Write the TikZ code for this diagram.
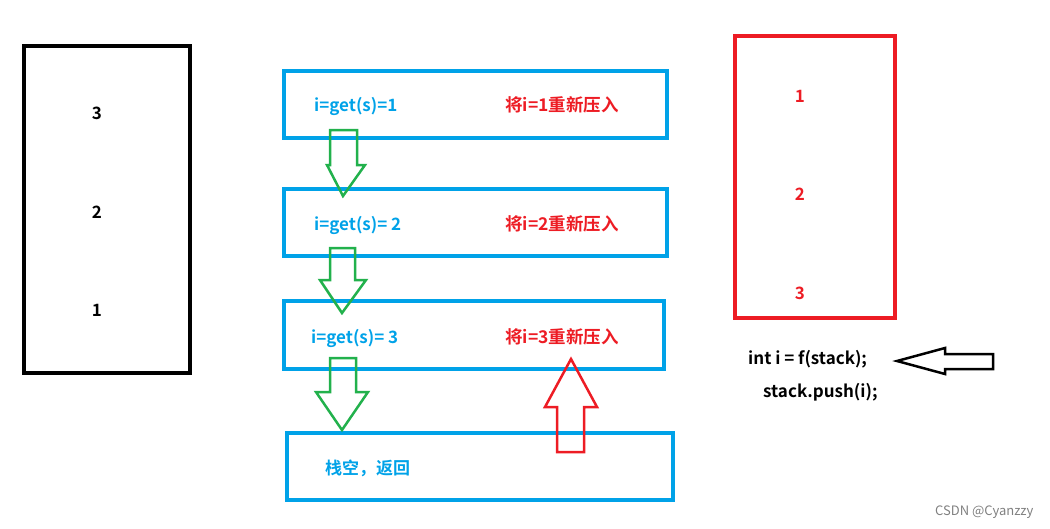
\documentclass[tikz,border=0pt]{standalone}
\usepackage{fontspec}
\setmainfont{Noto Sans CJK SC}[BoldFont={* Bold}]
\definecolor{pblue}{HTML}{00A2E8}
\definecolor{pred}{HTML}{ED1C24}
\definecolor{pgreen}{HTML}{22B14C}
\begin{document}
\begin{tikzpicture}[x=1pt,y=-1pt,
  box/.style={draw=pblue,line width=3.5pt},
  bt/.style={font=\bfseries\fontsize{17}{20}\selectfont,text=pblue,anchor=west,inner sep=0},
  rt/.style={font=\bfseries\fontsize{17.5}{20}\selectfont,text=pred,anchor=west,inner sep=0},
  kt/.style={font=\bfseries\fontsize{17}{20}\selectfont,inner sep=0},
  garrow/.style={draw=pgreen,line width=2.5pt,line join=miter}]
\useasboundingbox (0,0) rectangle (1050,528);
\draw[line width=3.5pt] (24,46) rectangle (190,373);
\node[kt] (l3) at (97,113) {3};
\node[kt] (l2) at (97,212) {2};
\node[kt] (l1) at (97,310) {1};
\draw[box] (284,71) rectangle (667,138);
\draw[box] (284,189) rectangle (667,256);
\draw[box] (284,301) rectangle (664,369);
\draw[box] (287,433) rectangle (673,500);
\node[bt] (t1) at (314,106) {i=get(s)=1};
\node[rt] (r1) at (505,105) {将i=1重新压入};
\node[bt] (t2) at (314,225) {i=get(s)=\ 2};
\node[rt] (r2) at (505,224) {将i=2重新压入};
\node[bt] (t3) at (311,338) {i=get(s)=\ 3};
\node[rt] (r3) at (505,337) {将i=3重新压入};
\node[bt] (t4) at (325,468) {栈空，返回};
\draw[garrow] (330,130) -- (357,130) -- (357,165) -- (365,165) -- (343,196) -- (327,165) -- (330,165) -- cycle;
\draw[garrow] (330,248) -- (355,248) -- (355,280) -- (366,280) -- (342,313) -- (320,280) -- (330,280) -- cycle;
\draw[garrow] (330,358) -- (356,358) -- (356,392) -- (368,392) -- (342,430) -- (316,392) -- (330,392) -- cycle;
\draw[draw=pred,line width=2.5pt] (557,452) -- (584,452) -- (584,407) -- (597,407) -- (571,359) -- (545,407) -- (557,407) -- cycle;
\draw[draw=pred,line width=3.5pt] (735,36) rectangle (895,318);
\node[kt,text=pred] (s1) at (800,96) {1};
\node[kt,text=pred] (s2) at (800,194) {2};
\node[kt,text=pred] (s3) at (800,293) {3};
\node[kt,anchor=west] (c1) at (748,359) {int i = f(stack);};
\node[kt,anchor=west] (c2) at (763,392) {stack.push(i);};
\draw[line width=2.5pt] (897,361) -- (945,348) -- (945,354) -- (993,354) -- (993,369) -- (945,369) -- (945,374) -- cycle;
\node[font=\fontsize{13}{15}\selectfont,text=gray,anchor=west,inner sep=0] (w) at (935,512) {CSDN @Cyanzzy};
\end{tikzpicture}
\end{document}
